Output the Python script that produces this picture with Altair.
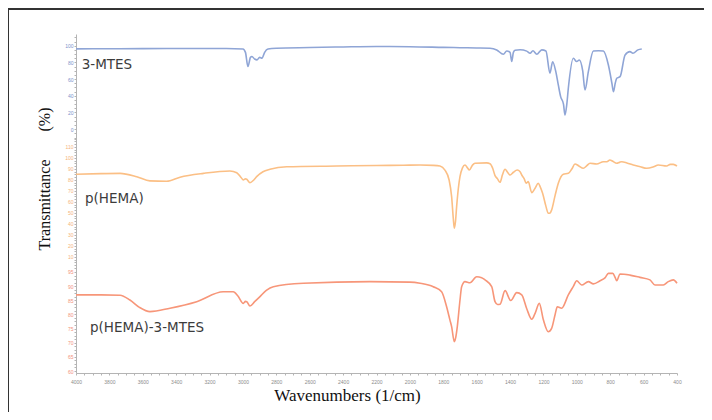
import altair as alt
import pandas as pd

# ---------------- data ----------------
top_wn = [4000, 3900, 3600, 3300, 3100, 3000, 2985, 2970, 2955, 2946, 2930, 2916, 2900, 2886,
          2870, 2850, 2800, 2600, 2400, 2200, 2000, 1800, 1700, 1600, 1520, 1480, 1440, 1420,
          1400, 1390, 1380, 1370, 1340, 1300, 1280, 1263, 1240, 1210, 1185, 1161, 1145, 1125,
          1111, 1097, 1080, 1071, 1060, 1051, 1021, 1001, 985, 965, 951, 931, 901, 870, 841,
          811, 790, 781, 770, 761, 741, 711, 682, 664, 634, 611]
top_T = [96.2, 96.3, 96.5, 96.6, 96.6, 96.0, 92, 75, 86, 87, 84, 83, 86, 85,
         92, 96, 97, 97.8, 98.5, 99, 98.8, 98, 97.6, 97.3, 96.9, 94.9, 89.7, 93.7,
         92, 81, 92, 94.5, 95.2, 93.5, 90.9, 94, 89.7, 95, 93.7, 67, 80.8, 68,
         53, 39, 30, 17, 30, 49, 84.9, 81, 82.9, 70, 46.9, 68.9, 93.6, 94, 93.6,
         76.9, 55, 44.9, 55, 61, 62.9, 88.9, 92.9, 90.9, 95, 96]

mid_wn = [4000, 3850, 3736, 3636, 3557, 3457, 3377, 3237, 3078, 3037, 3010, 2998, 2985, 2977,
          2958, 2935, 2918, 2880, 2838, 2738, 2438, 2200, 2039, 1939, 1860, 1820, 1790, 1765,
          1750, 1740, 1734, 1727, 1720, 1710, 1700, 1685, 1670, 1655, 1644, 1625, 1610, 1540,
          1520, 1505, 1490, 1475, 1460, 1445, 1430, 1415, 1400, 1380, 1357, 1340, 1330, 1315,
          1304, 1291, 1270, 1250, 1231, 1220, 1205, 1185, 1171, 1160, 1151, 1130, 1111, 1081,
          1051, 1030, 1011, 990, 961, 940, 921, 881, 841, 820, 802, 785, 761, 745, 731, 700,
          662, 620, 582, 540, 512, 462, 440, 422, 400]
mid_T = [85.2, 85.8, 86, 83, 79.2, 78.8, 82.5, 86, 88.2, 86.6, 82, 80, 81, 80.6,
         77.5, 80, 83, 87.5, 89.7, 92, 92.7, 93.2, 93.4, 93.6, 93.3, 92.7, 89, 80,
         64.8, 45, 36.1, 42, 55.7, 72, 83, 91, 93.6, 91, 89, 93.5, 95.2, 95.5,
         94.8, 91, 84, 81, 77.9, 85, 89.7, 87, 84.5, 87, 89, 87.5, 84.5, 81,
         77, 78.5, 68.5, 72.5, 77, 74, 67.9, 56, 49.7, 50, 52.7, 66, 77, 85.2,
         86, 90, 94.5, 93, 90.6, 93, 95.2, 94.5, 96.6, 96.5, 98.2, 97, 95.2, 96, 96.6, 95.5,
         93.6, 92, 90.6, 92, 93.6, 92.7, 94.2, 94.2, 92.7]

bot_wn = [4000, 3850, 3736, 3677, 3620, 3557, 3437, 3277, 3118, 3058, 3030, 2998, 2985, 2977,
          2958, 2930, 2898, 2860, 2818, 2638, 2239, 2000, 1939, 1860, 1810, 1780, 1760, 1750,
          1734, 1725, 1716, 1700, 1690, 1670, 1640, 1600, 1570, 1550, 1510, 1490, 1475, 1460,
          1430, 1396, 1360, 1330, 1300, 1270, 1250, 1225, 1200, 1171, 1151, 1130, 1117, 1091,
          1051, 1020, 1001, 971, 931, 901, 861, 830, 811, 785, 770, 761, 741, 682, 622, 562,
          532, 482, 452, 422, 400]
bot_T = [86.9, 86.9, 86.8, 85.1, 82.5, 81, 82.2, 84.5, 88, 88, 86.5, 83.9, 84.6, 84.5,
         83, 84.5, 86.3, 88.5, 89.8, 91, 91.6, 91.4, 91, 89.8, 88, 82.7, 78, 75.7,
         70.4, 72, 75.7, 85, 89.8, 91.6, 91.2, 93.3, 93, 92.2, 89.8, 84.5, 83.5, 83.6,
         88.4, 84.9, 87.7, 86.9, 82, 78.3, 80.4, 83.9, 78, 73.9, 75.1, 80, 82.7, 82.2,
         86.9, 90, 91.9, 90.4, 91.6, 90.8, 91.9, 93, 94.5, 94.5, 93, 91.9, 94.3, 93.9, 93.1, 92.2,
         90.4, 90.4, 91.6, 92.2, 91]

series_names = ["3-MTES", "p(HEMA)", "p(HEMA)-3-MTES"]
label_wn = [3966, 3946, 3916]
label_T = [76.3, 62.7, 75.2]

x_tick_values = list(range(400, 4001, 50))

# ---------------- styling ----------------
W, H = 601, 339
line_colors = ["#8fa5d6", "#fbbf85", "#f79679"]
label_colors = ["#7d93cc", "#f5b47a", "#f3937c"]

x_scale = alt.Scale(domain=[400, 4000], reverse=True, nice=False, zero=False)
x_axis = alt.Axis(
    values=x_tick_values, format="d",
    labelExpr="datum.value % 200 === 0 ? datum.label : ''",
    labelFontSize=5, labelColor="#8c8c8c", labelPadding=4, labelOverlap=False,
    labelFlush=False, tickSize=2, tickColor="#b4b4b4", domainColor="#b4b4b4",
    grid=False, title="Wavenumbers (1/cm)", titleFont="Liberation Serif",
    titleFontSize=17, titleFontWeight="normal", titleColor="#111111",
    titleX=271, titleY=22, titleAlign="center", titleBaseline="middle",
)


def frange(lo, hi, step):
    out, v = [], lo
    while v <= hi + 1e-9:
        out.append(round(v, 3))
        v += step
    return out


y_specs = [
    dict(domain=[-292.0, 114.0], ticks=frange(-10, 110, 5),
         expr="datum.value % 20 === 0 && datum.value >= 0 && datum.value <= 100 ? datum.label : ''"),
    dict(domain=[-95.5, 212.7], ticks=frange(5, 117.5, 2.5),
         expr="datum.value % 10 === 0 && datum.value >= 10 && datum.value <= 110 ? datum.label : ''"),
    dict(domain=[59.3, 179.1], ticks=frange(60, 97.5, 1.25),
         expr="datum.value % 5 === 0 && datum.value >= 60 && datum.value <= 95 ? datum.label : ''"),
]

ytitle = "Transmittance" + "\u00a0" * 7 + "(%)"

all_wn = [top_wn, mid_wn, bot_wn]
all_T = [top_T, mid_T, bot_T]

panels = []
for i in range(3):
    spec = y_specs[i]
    axis_kw = dict(
        orient="left", values=spec["ticks"], labelExpr=spec["expr"],
        labelFontSize=5, labelColor=label_colors[i], labelPadding=1,
        labelOverlap=False, labelFlush=False, tickSize=2, tickColor="#b4b4b4",
        domain=(i == 0), domainColor="#b4b4b4", grid=False,
    )
    if i == 1:
        axis_kw.update(title=ytitle, titleFont="Liberation Serif", titleFontSize=16,
                       titleFontWeight="normal", titleColor="#111111", titleAngle=270,
                       titleX=-31.5, titleY=144.5, titleAlign="center",
                       titleBaseline="middle")
    else:
        axis_kw.update(title="")
    y_axis = alt.Axis(**axis_kw)
    y_scale = alt.Scale(domain=spec["domain"], nice=False, zero=False)

    df = pd.DataFrame({"wn": all_wn[i], "T": all_T[i]})
    line = alt.Chart(df).mark_line(
        color=line_colors[i], strokeWidth=1.6, interpolate="monotone"
    ).encode(
        x=alt.X("wn:Q", scale=x_scale, axis=x_axis),
        y=alt.Y("T:Q", scale=y_scale, axis=y_axis),
    )
    ldf = pd.DataFrame({"wn": [label_wn[i]], "T": [label_T[i]], "name": [series_names[i]]})
    txt = alt.Chart(ldf).mark_text(
        align="left", baseline="middle", font="DejaVu Sans", fontSize=13.5, color="#3c3c3c"
    ).encode(
        x=alt.X("wn:Q", scale=x_scale, axis=x_axis),
        y=alt.Y("T:Q", scale=y_scale, axis=y_axis),
        text="name:N",
    )
    panels.append(alt.layer(line, txt))

frame_df = pd.DataFrame({"a": [0]})
frame_top = alt.Chart(frame_df).mark_rule(color="#333333", strokeWidth=2).encode(
    x=alt.value(-68), x2=alt.value(640), y=alt.value(-25)
)
frame_left = alt.Chart(frame_df).mark_rule(color="#333333", strokeWidth=2).encode(
    x=alt.value(-68), y=alt.value(-25), y2=alt.value(390)
)

chart = alt.layer(*panels, frame_top, frame_left).resolve_scale(
    y="independent"
).properties(
    width=W, height=H,
    autosize=alt.AutoSizeParams(type="none"),
    padding={"left": 68, "top": 26, "right": 27, "bottom": 39},
    background="white",
).configure_view(stroke=None)

chart.save("out.html", embed_options={"renderer": "svg", "actions": False})
